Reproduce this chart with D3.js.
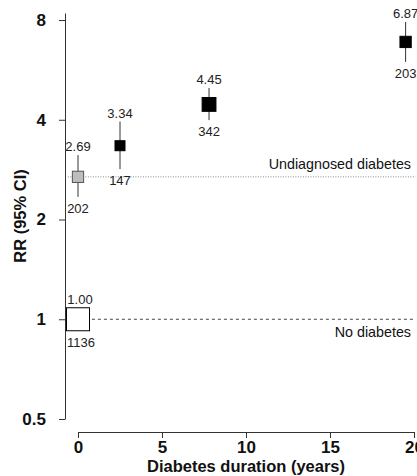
<!DOCTYPE html>
<html>
<head>
<meta charset="utf-8">
<script src="https://cdn.jsdelivr.net/npm/d3@7"></script>
<style>
  body { margin: 0; background: #fff; }
  svg { font-family: "Liberation Sans", Arial, sans-serif; }
</style>
</head>
<body>
<svg id="chart"></svg>
<script>
// groups: reference, undiagnosed, then diagnosed by duration
const groups    = ['No diabetes', 'Undiagnosed', 'Dx 1', 'Dx 2', 'Dx 3'];
const durations = [0, 0, 2.5, 7.8, 19.5];
const rr        = [1.00, 2.69, 3.34, 4.45, 6.87];
const rrLow     = [null, 2.34, 2.84, 3.99, 5.98];
const rrHigh    = [null, 3.13, 3.95, 4.99, 7.89];
const counts    = [1136, 202, 147, 342, 203];
const rrLabels  = ['1.00', '2.69', '3.34', '4.45', '6.87'];
const yTicks    = [0.5, 1, 2, 4, 8];
const xTicks    = [0, 5, 10, 15, 20];
const refLines  = [{name: 'No diabetes', value: 1.00}, {name: 'Undiagnosed diabetes', value: 2.69}];

const W = 417, H = 476;
const svg = d3.select('#chart').attr('width', W).attr('height', H);

const x = d3.scaleLinear().domain([0, 20]).range([78, 414]);
const y = d3.scaleLog().base(2).domain([0.5, 8.4]).range([419, 13]);
const size = d3.scaleSqrt().domain([147, 1136]).range([10, 23]);

// y axis
const yAxis = svg.append('g')
    .attr('transform', 'translate(65,0)')
    .call(d3.axisLeft(y).tickValues(yTicks).tickFormat(d => d).tickSize(6).tickSizeOuter(0).tickPadding(13));
yAxis.select('.domain').attr('stroke', '#333');
yAxis.selectAll('.tick line').attr('stroke', '#333');
yAxis.selectAll('.tick text')
    .attr('font-size', 17).attr('font-weight', 'bold').attr('fill', '#111')
    .attr('font-family', '"Liberation Sans", Arial, sans-serif');

// x axis
const xAxis = svg.append('g')
    .attr('transform', 'translate(0,432)')
    .call(d3.axisBottom(x).tickValues(xTicks).tickSize(6).tickSizeOuter(6).tickPadding(3));
xAxis.select('.domain').attr('stroke', '#333');
xAxis.selectAll('.tick line').attr('stroke', '#333');
xAxis.selectAll('.tick text')
    .attr('font-size', 17).attr('font-weight', 'bold').attr('fill', '#111')
    .attr('font-family', '"Liberation Sans", Arial, sans-serif');

// axis titles
svg.append('text')
    .attr('x', 246).attr('y', 472)
    .attr('text-anchor', 'middle')
    .attr('font-size', 16.5).attr('font-weight', 'bold').attr('fill', '#111')
    .text('Diabetes duration (years)');

svg.append('text')
    .attr('transform', 'translate(26,216) rotate(-90)')
    .attr('text-anchor', 'middle')
    .attr('font-size', 16.5).attr('font-weight', 'bold').attr('fill', '#111')
    .text('RR (95% CI)');

// reference lines
svg.selectAll('.ref')
    .data(refLines)
    .enter()
    .append('line')
    .attr('x1', x(-0.6)).attr('x2', x(20.1))
    .attr('y1', d => y(d.value)).attr('y2', d => y(d.value))
    .attr('stroke', (d, i) => i === 0 ? '#444' : '#888')
    .attr('stroke-width', 1)
    .attr('stroke-dasharray', (d, i) => i === 0 ? '3,3' : '1,1.5');

svg.selectAll('.reflab')
    .data(refLines)
    .enter()
    .append('text')
    .attr('x', 411)
    .attr('y', (d, i) => i === 0 ? y(d.value) + 18 : y(d.value) - 8)
    .attr('text-anchor', 'end')
    .attr('font-size', 14.3).attr('fill', '#111')
    .text(d => d.name);

const pts = groups.map((g, i) => ({
    g, i, x: durations[i], rr: rr[i], lo: rrLow[i], hi: rrHigh[i], n: counts[i], lab: rrLabels[i]
}));

// CI whiskers
svg.selectAll('.ci')
    .data(pts.filter(d => d.lo !== null))
    .enter()
    .append('line')
    .attr('x1', d => x(d.x)).attr('x2', d => x(d.x))
    .attr('y1', d => y(d.lo)).attr('y2', d => y(d.hi))
    .attr('stroke', '#333').attr('stroke-width', 1);

// squares
svg.selectAll('.pt')
    .data(pts)
    .enter()
    .append('rect')
    .attr('x', d => x(d.x) - size(d.n) / 2)
    .attr('y', d => y(d.rr) - size(d.n) / 2)
    .attr('width', d => size(d.n))
    .attr('height', d => size(d.n))
    .attr('fill', d => d.i === 0 ? '#fff' : d.i === 1 ? '#bdbdbd' : '#000')
    .attr('stroke', d => d.i === 1 ? '#555' : '#000')
    .attr('stroke-width', 1);

// labels: RR above, count below
const topOf = d => d.hi !== null ? y(d.hi) : y(d.rr) - size(d.n) / 2;
const botOf = d => d.lo !== null ? y(d.lo) : y(d.rr) + size(d.n) / 2;

svg.selectAll('.rrlab')
    .data(pts)
    .enter()
    .append('text')
    .attr('x', d => x(d.x) + (d.i === 0 ? 2 : 0))
    .attr('y', d => topOf(d) - 4)
    .attr('text-anchor', 'middle')
    .attr('font-size', 13).attr('fill', '#222')
    .text(d => d.lab);

svg.selectAll('.nlab')
    .data(pts)
    .enter()
    .append('text')
    .attr('x', d => x(d.x) + (d.i === 0 ? 3 : 0))
    .attr('y', d => botOf(d) + 16)
    .attr('text-anchor', 'middle')
    .attr('font-size', 13).attr('fill', '#222')
    .text(d => d.n);
</script>
</body>
</html>
